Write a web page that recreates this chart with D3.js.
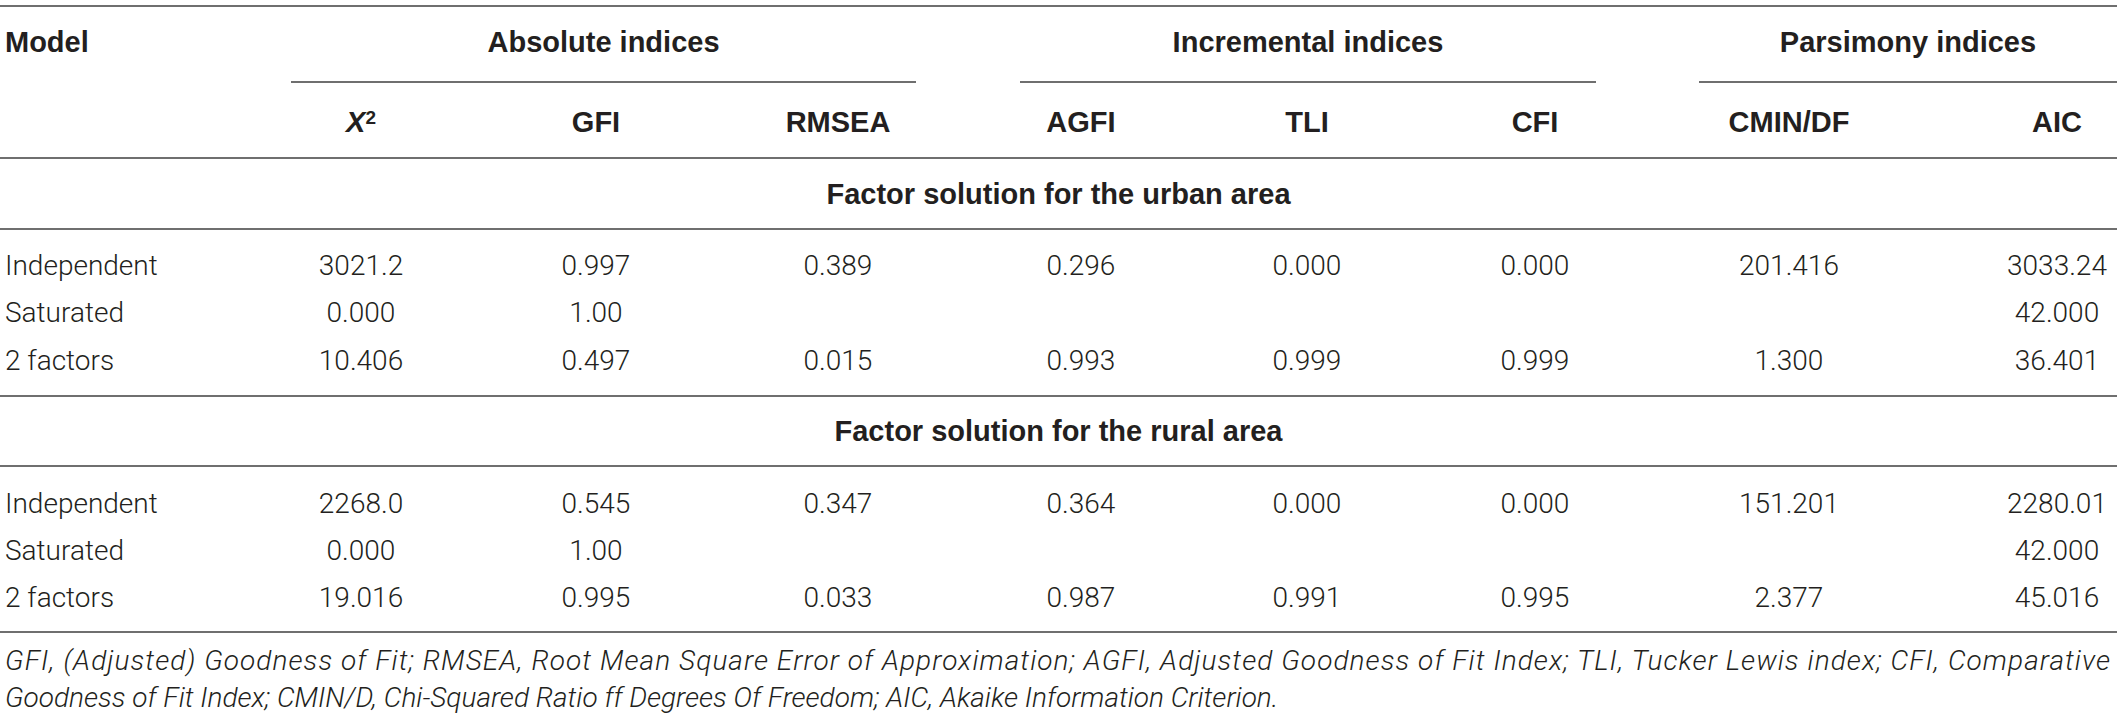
<!doctype html>
<html lang="en">
<head>
  <meta charset="utf-8">
  <title>Fit indices</title>
  <script src="https://cdnjs.cloudflare.com/ajax/libs/d3/7.8.5/d3.min.js"></script>
  <style>
    body { margin: 0; background: #fff; }
    text { font-family: "Liberation Sans", Arial, sans-serif; fill: #231f20; }
    .hd { font-weight: bold; font-size: 29px; }
    .cell { font-family: Roboto, "Liberation Sans", sans-serif; font-weight: 300; font-size: 28px; }
    .note { font-family: Roboto, "Liberation Sans", sans-serif; font-weight: 300; font-style: italic; font-size: 28px; }
    .rule { stroke: #6f6f6f; stroke-width: 2; }
  </style>
</head>
<body>
  <div id="my_table"></div>
  <script>

// table content
var colKeys = ["chi2", "GFI", "RMSEA", "AGFI", "TLI", "CFI", "CMIN/DF", "AIC"];
var colLabels = ["X", "GFI", "RMSEA", "AGFI", "TLI", "CFI", "CMIN/DF", "AIC"];
var groupNames = ["Absolute indices", "Incremental indices", "Parsimony indices"];
var models = ["Independent", "Saturated", "2 factors"];
var sectionNames = ["Factor solution for the urban area", "Factor solution for the rural area"];

var urbanValues = [
  ["3021.2", "0.997", "0.389", "0.296", "0.000", "0.000", "201.416", "3033.24"],
  ["0.000", "1.00", "", "", "", "", "", "42.000"],
  ["10.406", "0.497", "0.015", "0.993", "0.999", "0.999", "1.300", "36.401"]
];
var ruralValues = [
  ["2268.0", "0.545", "0.347", "0.364", "0.000", "0.000", "151.201", "2280.01"],
  ["0.000", "1.00", "", "", "", "", "", "42.000"],
  ["19.016", "0.995", "0.033", "0.987", "0.991", "0.995", "2.377", "45.016"]
];
var footnote = [
  "GFI, (Adjusted) Goodness of Fit; RMSEA, Root Mean Square Error of Approximation; AGFI, Adjusted Goodness of Fit Index; TLI, Tucker Lewis index; CFI, Comparative",
  "Goodness of Fit Index; CMIN/D, Chi-Squared Ratio ff Degrees Of Freedom; AIC, Akaike Information Criterion."
];

var width = 2117, height = 718;

var svg = d3.select("#my_table")
  .append("svg")
    .attr("width", width)
    .attr("height", height);

// column centres
var x = d3.scaleOrdinal()
  .domain(colKeys)
  .range([361, 596, 838, 1081, 1307, 1535, 1789, 2057]);

// spans of the group rules
var groupX = d3.scaleOrdinal()
  .domain(groupNames)
  .range([[291, 916], [1020, 1596], [1699, 2117]]);

// rows of each block
var yUrban = d3.scalePoint().domain(models).range([265, 360]);
var yRural = d3.scalePoint().domain(models).range([503, 597]);

// horizontal rules
[6, 158, 229, 396, 466, 632].forEach(function(y) {
  svg.append("line").attr("class", "rule")
    .attr("x1", 0).attr("x2", width).attr("y1", y).attr("y2", y);
});

svg.selectAll("line.grp")
  .data(groupNames)
  .enter()
  .append("line")
    .attr("class", "rule grp")
    .attr("x1", function(d) { return groupX(d)[0]; })
    .attr("x2", function(d) { return groupX(d)[1]; })
    .attr("y1", 82).attr("y2", 82);

// header
svg.append("text").attr("class", "hd")
  .attr("x", 5).attr("y", 42).attr("dy", "0.35em")
  .text("Model");

svg.selectAll("text.grp")
  .data(groupNames)
  .enter()
  .append("text")
    .attr("class", "hd grp")
    .attr("text-anchor", "middle")
    .attr("x", function(d) { return (groupX(d)[0] + groupX(d)[1]) / 2; })
    .attr("y", 42).attr("dy", "0.35em")
    .text(function(d) { return d; });

var heads = svg.selectAll("text.col")
  .data(colKeys)
  .enter()
  .append("text")
    .attr("class", "hd col")
    .attr("text-anchor", "middle")
    .attr("x", function(d) { return x(d); })
    .attr("y", 122).attr("dy", "0.35em");

heads.append("tspan")
  .style("font-style", function(d, i) { return i == 0 ? "italic" : null; })
  .text(function(d, i) { return colLabels[i]; });
heads.filter(function(d, i) { return i == 0; })
  .append("tspan")
    .attr("dy", "-0.45em")
    .style("font-size", "19px")
    .text("2");

// section titles, centred on the table
svg.selectAll("text.sec")
  .data(sectionNames)
  .enter()
  .append("text")
    .attr("class", "hd sec")
    .attr("text-anchor", "middle")
    .attr("x", width / 2)
    .attr("y", function(d, i) { return i == 0 ? 194 : 431; })
    .attr("dy", "0.35em")
    .text(function(d) { return d; });

// body rows
function drawBlock(values, y) {
  var g = svg.append("g");
  g.selectAll("text.model")
    .data(models)
    .enter()
    .append("text")
      .attr("class", "cell model")
      .attr("x", 5)
      .attr("y", function(d) { return y(d); })
      .attr("dy", "0.35em")
      .text(function(d) { return d; });

  values.forEach(function(row, r) {
    g.selectAll("text.r" + r)
      .data(row)
      .enter()
      .append("text")
        .attr("class", "cell r" + r)
        .attr("text-anchor", "middle")
        .attr("x", function(d, i) { return x(colKeys[i]); })
        .attr("y", y(models[r]))
        .attr("dy", "0.35em")
        .text(function(d) { return d; });
  });
}
drawBlock(urbanValues, yUrban);
drawBlock(ruralValues, yRural);

// note under the table
svg.selectAll("text.note")
  .data(footnote)
  .enter()
  .append("text")
    .attr("class", "note")
    .attr("x", 5)
    .attr("y", function(d, i) { return i == 0 ? 660 : 697; })
    .attr("dy", "0.35em")
    .attr("textLength", function(d, i) { return i == 0 ? 2105 : null; })
    .attr("lengthAdjust", "spacing")
    .text(function(d) { return d; });

</script>
</body>
</html>
